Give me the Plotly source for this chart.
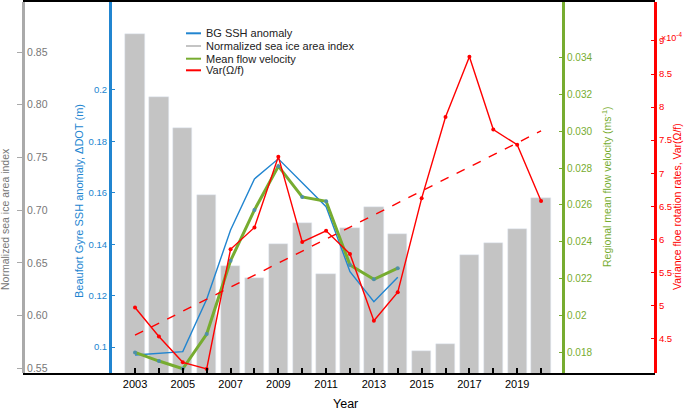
import plotly.graph_objects as go

years = list(range(2003, 2021))
ice_index = [0.867, 0.807, 0.778, 0.714, 0.647, 0.636, 0.668, 0.688, 0.640,
             0.683, 0.703, 0.677, 0.567, 0.573, 0.658, 0.669, 0.682, 0.712]
ssh_years = list(range(2003, 2015))
ssh_anom = [0.0969, 0.0975, 0.0982, 0.1186, 0.1455, 0.1654, 0.1732, 0.1639,
            0.1546, 0.1293, 0.1176, 0.1271]
flow_years = list(range(2003, 2015))
flow_vel = [0.01798, 0.01751, 0.01709, 0.01898, 0.02297, 0.02573, 0.02811,
            0.02644, 0.0262, 0.02273, 0.02196, 0.02256]
var_years = list(range(2003, 2021))
var_rot = [4.97, 4.53, 4.14, 4.04, 5.85, 6.18, 7.25, 5.96, 6.13, 5.78, 4.77,
           5.20, 6.62, 7.85, 8.76, 7.66, 7.43, 6.58]  # x 1e-4
trend_years = [2003, 2020]
trend_vals = [4.55, 7.64]

x_major = list(range(2003, 2021, 2))
x_minor = list(range(2004, 2021, 2))
gray_ticks = [0.55, 0.60, 0.65, 0.70, 0.75, 0.80, 0.85]
blue_ticks = [0.1, 0.12, 0.14, 0.16, 0.18, 0.2]
green_ticks = [0.018, 0.02, 0.022, 0.024, 0.026, 0.028, 0.030, 0.032, 0.034]
green_ticktext = ["0.018", "0.02", "0.022", "0.024", "0.026", "0.028", "0.030", "0.032", "0.034"]
red_ticks = [4.5, 5, 5.5, 6, 6.5, 7, 7.5, 8, 8.5, 9]

BLUE = "#2185d0"
GREEN = "#77ac30"
RED = "#ff0000"
GRAY = "#c4c4c4"
FONT = "Liberation Sans, Arial, sans-serif"

L, R, T, B = 23, 30, 2, 40
W, H = 685, 413
PW, PH = W - L - R, H - T - B


def px(x):
    return (x - L) / PW


def py(y):
    return (H - B - y) / PH


fig = go.Figure()
fig.add_trace(go.Bar(x=years, y=ice_index, marker_color=GRAY, width=0.81,
                     yaxis="y", showlegend=False))
fig.add_trace(go.Scatter(x=ssh_years, y=ssh_anom, mode="lines",
                         line=dict(color=BLUE, width=1.4), yaxis="y2", showlegend=False))
fig.add_trace(go.Scatter(x=flow_years, y=flow_vel, mode="lines+markers",
                         line=dict(color=GREEN, width=3),
                         marker=dict(color="#4f8fa8", size=4), yaxis="y3", showlegend=False))
fig.add_trace(go.Scatter(x=var_years, y=var_rot, mode="lines+markers",
                         line=dict(color=RED, width=1.4),
                         marker=dict(color=RED, size=4), yaxis="y4", showlegend=False))
fig.add_trace(go.Scatter(x=trend_years, y=trend_vals, mode="lines",
                         line=dict(color=RED, width=1.4, dash="dash"), yaxis="y4", showlegend=False))

fig.update_layout(
    width=W, height=H,
    margin=dict(l=L, r=R, t=T, b=B, autoexpand=False),
    plot_bgcolor="white", paper_bgcolor="white",
    font=dict(family=FONT),
    showlegend=False,
    bargap=0,
    xaxis=dict(range=[1998.31, 2024.77], tickvals=x_major,
               ticks="inside", ticklen=5, tickwidth=1.5, tickcolor="black",
               minor=dict(tickvals=x_minor, ticks="inside", ticklen=5, tickwidth=1.5,
                          tickcolor="black", showgrid=False),
               showline=True, linecolor="black", linewidth=2, mirror=True,
               showgrid=False, zeroline=False,
               tickfont=dict(family=FONT, size=11, color="black")),
    yaxis=dict(range=[0.5457, 0.8974], tickvals=gray_ticks, tickformat=".2f",
               anchor="free", position=0, side="right",
               ticks="inside", ticklen=5, tickcolor="#aaaaaa",
               showline=True, linecolor="#aaaaaa", linewidth=3,
               showgrid=False, zeroline=False,
               tickfont=dict(family=FONT, size=10.5, color="#777777")),
    yaxis2=dict(range=[0.0899, 0.2342], tickvals=blue_ticks, overlaying="y",
                anchor="free", position=px(110), side="left",
                ticks="inside", ticklen=3, tickcolor=BLUE,
                showline=True, linecolor=BLUE, linewidth=3,
                showgrid=False, zeroline=False,
                tickfont=dict(family=FONT, size=9.5, color=BLUE)),
    yaxis3=dict(range=[0.01686, 0.03704], tickvals=green_ticks, ticktext=green_ticktext,
                overlaying="y", anchor="free", position=px(563), side="right",
                ticks="inside", ticklen=3, tickcolor=GREEN,
                showline=True, linecolor=GREEN, linewidth=3,
                showgrid=False, zeroline=False,
                tickfont=dict(family=FONT, size=10, color=GREEN)),
    yaxis4=dict(range=[3.979, 9.589], tickvals=red_ticks,
                overlaying="y", anchor="free", position=1.0, side="right",
                ticks="inside", ticklen=3, tickcolor=RED,
                showline=True, linecolor=RED, linewidth=3,
                showgrid=False, zeroline=False,
                tickfont=dict(family=FONT, size=9.5, color=RED)),
)

annotations = [
    dict(x=px(5), y=py(219), text="Normalized sea ice area index", textangle=-90,
         font=dict(family=FONT, size=10.5, color="#777777")),
    dict(x=px(79), y=py(201), text="Beaufort Gyre SSH anomaly, ΔDOT (m)", textangle=-90,
         font=dict(family=FONT, size=11, color=BLUE)),
    dict(x=px(606), y=py(187), text="Regional mean flow velocity (ms<sup>-1</sup>)", textangle=-90,
         font=dict(family=FONT, size=10.5, color=GREEN)),
    dict(x=px(677), y=py(207), text="Variance floe rotation rates, Var(Ω/f)", textangle=-90,
         font=dict(family=FONT, size=10.5, color=RED)),
    dict(x=px(345), y=py(404), text="Year", font=dict(family=FONT, size=12.5, color="black")),
    dict(x=px(659), y=py(37), text="×10<sup>-4</sup>", xanchor="left",
         font=dict(family=FONT, size=9, color=RED)),
]
legend_items = [("BG SSH anomaly", BLUE), ("Normalized sea ice area index", GRAY),
                ("Mean flow velocity", GREEN), ("Var(Ω/f)", RED)]
legend_rows = [33.3, 46, 58.7, 70.3]
shapes = []
for (label, col), yy in zip(legend_items, legend_rows):
    annotations.append(dict(x=px(204), y=py(yy), text=label, xanchor="left",
                            font=dict(family=FONT, size=11, color="#222222")))
    shapes.append(dict(type="line", xref="paper", yref="paper",
                       x0=px(186), x1=px(201), y0=py(yy), y1=py(yy),
                       line=dict(color=col, width=2)))
for a in annotations:
    a.setdefault("xanchor", "center")
    a.update(xref="paper", yref="paper", showarrow=False, yanchor="middle")
fig.update_layout(annotations=annotations, shapes=shapes)

fig.write_html("out.html", config={"displayModeBar": False},
               post_script="document.body.style.margin='0';document.body.style.overflow='hidden';")
